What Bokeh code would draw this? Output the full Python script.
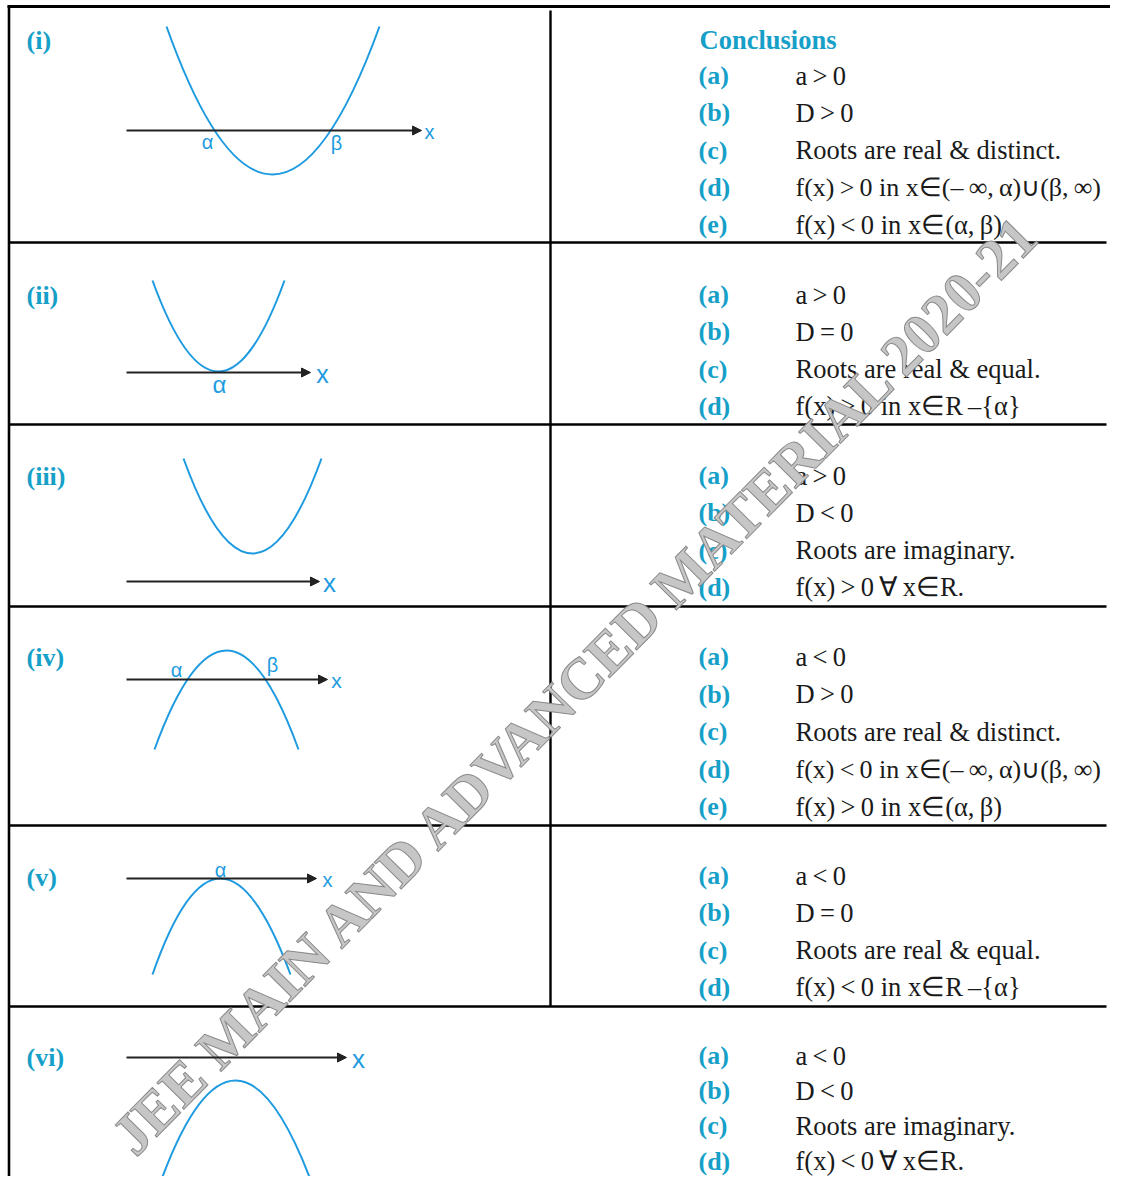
from bokeh.plotting import figure
from bokeh.models import Range1d, Arrow, NormalHead, ColumnDataSource
from bokeh.core.properties import value
from bokeh.embed import file_html
from bokeh.resources import INLINE

T = "\u2009"  # thin space

# ---------------- data ----------------
case_labels = ["(i)", "(ii)", "(iii)", "(iv)", "(v)", "(vi)"]
item_letters = ["(a)", "(b)", "(c)", "(d)", "(e)"]
conclusions_title = "Conclusions"
conclusions = [
    [f"a{T}>{T}0", f"D{T}>{T}0", "Roots are real & distinct.",
     f"f(x){T}>{T}0 in x∈(–{T}∞,{T}α)∪(β,{T}∞)", f"f(x){T}<{T}0 in x∈(α,{T}β)"],
    [f"a{T}>{T}0", f"D{T}={T}0", "Roots are real & equal.", f"f(x){T}>{T}0 in x∈R{T}–{{α}}"],
    [f"a{T}>{T}0", f"D{T}<{T}0", "Roots are imaginary.", f"f(x){T}>{T}0{T}∀{T}x∈R."],
    [f"a{T}<{T}0", f"D{T}>{T}0", "Roots are real & distinct.",
     f"f(x){T}<{T}0 in x∈(–{T}∞,{T}α)∪(β,{T}∞)", f"f(x){T}>{T}0 in x∈(α,{T}β)"],
    [f"a{T}<{T}0", f"D{T}={T}0", "Roots are real & equal.", f"f(x){T}<{T}0 in x∈R{T}–{{α}}"],
    [f"a{T}<{T}0", f"D{T}<{T}0", "Roots are imaginary.", f"f(x){T}<{T}0{T}∀{T}x∈R."],
]
watermark_text = "JEE MAIN AND ADVANCED MATERIAL 2020-21"

# parabola sketches (page pixel units, y downwards)
curve_start_x = [166, 152, 183, 154, 152, 157]
curve_end_x = [379, 284, 321, 298, 290, 314]
curve_end_y = [26, 280, 458, 749, 974, 1190]
vertex_x = [272, 218, 252, 226, 220, 235]
vertex_y = [174, 371, 553, 650, 878, 1080]

# x-axes of the sketches
axis_y = [130, 372, 581, 679, 878, 1057]
axis_start_x = [126, 126, 126, 126, 126, 126]
axis_end_x = [421, 310, 319, 327, 316, 346]
axis_label_x = [429, 322, 329, 336, 327, 358]
axis_label_size = ["20px", "25px", "26px", "21px", "20px", "26px"]

# root labels
root_text = ["α", "β", "α", "α", "β", "α"]
root_x = [207, 336, 219, 176, 272, 220]
root_y = [141, 142, 384, 669, 664, 869]
root_size = ["20px", "20px", "24px", "20px", "20px", "20px"]

# table layout
row_rules_y = [242, 424, 606, 825, 1006]
case_label_center = [40, 295, 476, 657, 877, 1057]
first_item_center = [75, 294, 475, 656, 875, 1055]
item_step = [37.3, 37.3, 37.3, 37.5, 37.3, 35.2]
title_center = 39

# ---------------- style ----------------
TEAL = "#16a0c8"
BLUE = "#1e9be0"
INK = "#1a1a1a"
SERIF = "Liberation Serif"
SANS = "Liberation Sans"
W, H = 1110, 1176

p = figure(width=W, height=H, x_range=Range1d(0, W), y_range=Range1d(H, 0),
           output_backend="svg", toolbar_location=None, x_axis_type=None, y_axis_type=None,
           min_border=0, outline_line_color=None, background_fill_color="white")

# table lines
n = len(row_rules_y)
p.segment(x0=[8] * n, y0=row_rules_y, x1=[1106] * n, y1=row_rules_y,
          line_color="black", line_width=2.6)
p.segment(x0=[7], y0=[6], x1=[W], y1=[6], line_color="black", line_width=3)
p.segment(x0=[8.5], y0=[5], x1=[8.5], y1=[H], line_color="black", line_width=2.6)
p.segment(x0=[550], y0=[10], x1=[550], y1=[row_rules_y[-1]], line_color="black", line_width=2.4)

# sketches
cx = [2 * vx - (a + b) / 2 for vx, a, b in zip(vertex_x, curve_start_x, curve_end_x)]
cy = [2 * vy - ey for vy, ey in zip(vertex_y, curve_end_y)]
p.quadratic(x0=curve_start_x, y0=curve_end_y, x1=curve_end_x, y1=curve_end_y, cx=cx, cy=cy,
            line_color=BLUE, line_width=2)

for i in range(6):
    p.add_layout(Arrow(end=NormalHead(size=9, fill_color="#222222", line_color="#222222"),
                       x_start=axis_start_x[i], y_start=axis_y[i],
                       x_end=axis_end_x[i], y_end=axis_y[i],
                       line_color="#222222", line_width=2))
    p.text(x=[axis_label_x[i]], y=[axis_y[i] + 1], text=["x"], text_color=BLUE,
           text_font=value(SANS), text_font_size=axis_label_size[i],
           text_align="center", text_baseline="middle")

for t, x, y, s in zip(root_text, root_x, root_y, root_size):
    p.text(x=[x], y=[y], text=[t], text_color=BLUE, text_font=value(SANS),
           text_font_size=s, text_align="center", text_baseline="middle")

# case labels
p.text(x=[26] * 6, y=case_label_center, text=case_labels, text_color=TEAL,
       text_font=value(SERIF), text_font_style="bold", text_font_size="26px",
       text_baseline="middle")

# conclusions
p.text(x=[699], y=[title_center], text=[conclusions_title], text_color=TEAL,
       text_font=value(SERIF), text_font_style="bold", text_font_size="26.5px",
       text_baseline="middle")
lx, ly, lt, cxs, cys, cts, csz = [], [], [], [], [], [], []
for r, items in enumerate(conclusions):
    for k, txt in enumerate(items):
        yc = first_item_center[r] + k * item_step[r]
        lx.append(698); ly.append(yc); lt.append(item_letters[k])
        cxs.append(795); cys.append(yc); cts.append(txt)
        csz.append("26px" if "∪" in txt else "26.5px")
p.text(x=lx, y=ly, text=lt, text_color=TEAL, text_font=value(SERIF),
       text_font_style="bold", text_font_size="26px", text_baseline="middle")
src = ColumnDataSource(dict(x=cxs, y=cys, text=cts, size=csz))
p.text(x="x", y="y", text="text", source=src, text_color=INK, text_font=value(SERIF),
       text_font_size="size", text_baseline="middle")

# watermark
p.text(x=[577], y=[682], text=[watermark_text], angle=45.4, angle_units="deg",
       text_color="#c6c6c6", text_outline_color="#8a8a8a", text_font=value(SERIF),
       text_font_style="bold", text_font_size="58px", text_align="center",
       text_baseline="middle")

open("out.html", "w").write(file_html(p, INLINE))
